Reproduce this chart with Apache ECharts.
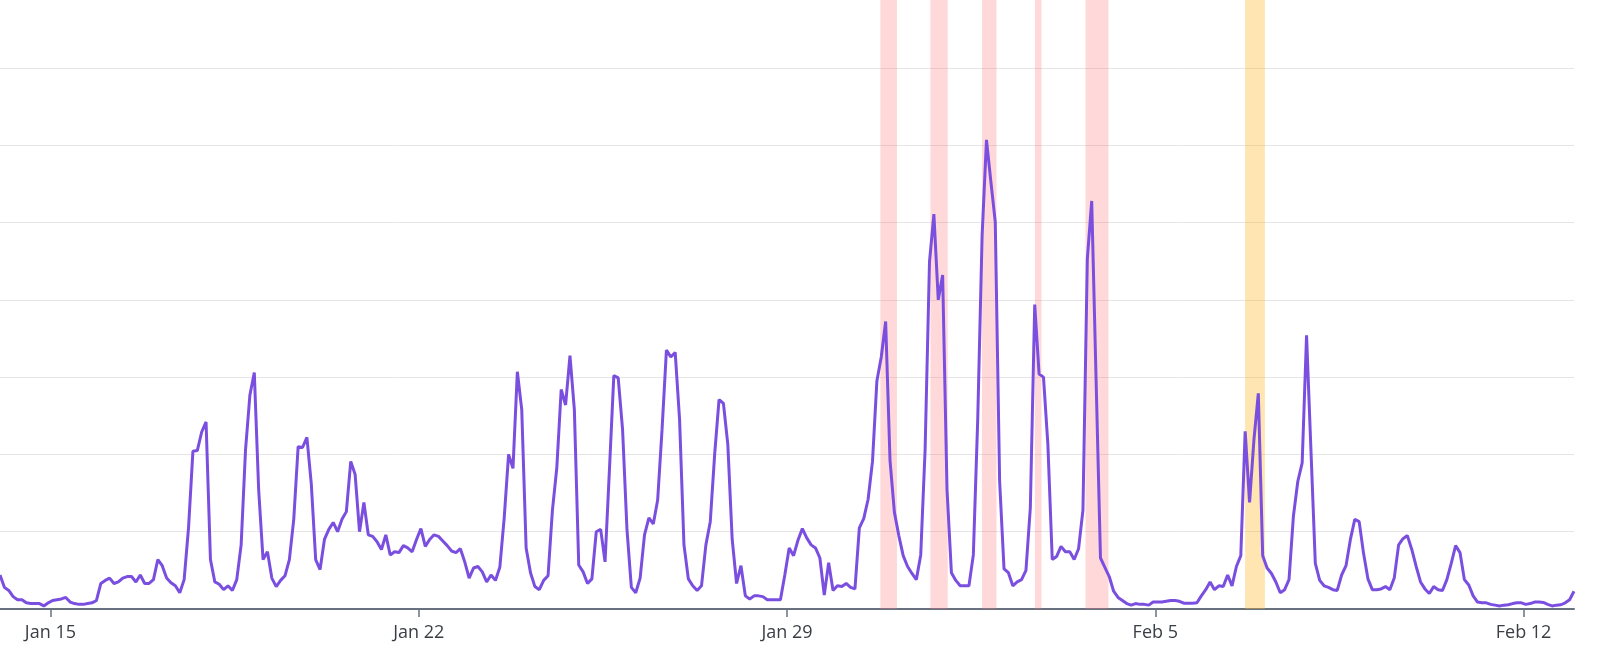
<!DOCTYPE html>
<html>
<head>
<meta charset="utf-8">
<script src="https://cdn.jsdelivr.net/npm/echarts@6/dist/echarts.min.js"></script>
<style>
  html, body { margin: 0; padding: 0; background: #ffffff; }
  #chart { width: 1600px; height: 664px; }
</style>
</head>
<body>
<div id="chart"></div>
<script>
// ---- data (2-hour samples starting 2024-01-14 01:00 UTC) ----
const seriesStart = '2024-01-14T01:00:00Z';
const stepHours = 2;

const values = [
  // Jan 14
  4.4, 2.8, 2.4, 1.6, 1.2, 1.2, 0.8, 0.7, 0.7, 0.7, 0.4, 0.8,
  // Jan 15
  1.1, 1.2, 1.3, 1.5, 0.9, 0.7, 0.6, 0.6, 0.7, 0.8, 1.1, 3.3,
  // Jan 16
  3.7, 4.0, 3.3, 3.5, 4.0, 4.2, 4.2, 3.5, 4.4, 3.3, 3.3, 3.8,
  // Jan 17
  6.4, 5.6, 4.0, 3.4, 3.0, 2.1, 3.8, 10.5, 20.4, 20.5, 22.9, 24.2,
  // Jan 18
  6.4, 3.5, 3.2, 2.5, 3.0, 2.4, 3.8, 8.3, 20.6, 27.7, 30.6, 15.4,
  // Jan 19
  6.4, 7.4, 4.0, 2.9, 3.7, 4.3, 6.4, 11.6, 21.0, 20.9, 22.2, 16.2,
  // Jan 20
  6.4, 5.1, 9.0, 10.3, 11.2, 10.0, 11.6, 12.6, 19.1, 17.4, 10.0, 13.8,
  // Jan 21
  9.6, 9.4, 8.7, 7.7, 9.6, 7.0, 7.4, 7.3, 8.2, 7.9, 7.4, 9.0,
  // Jan 22
  10.4, 8.1, 9.0, 9.6, 9.4, 8.8, 8.2, 7.5, 7.3, 7.8, 6.1, 4.0,
  // Jan 23
  5.3, 5.5, 4.8, 3.5, 4.4, 3.7, 5.4, 11.8, 20.0, 18.2, 30.7, 25.8,
  // Jan 24
  7.9, 4.7, 2.9, 2.5, 3.7, 4.3, 12.8, 18.3, 28.4, 26.4, 32.8, 25.8,
  // Jan 25
  5.7, 4.8, 3.3, 3.9, 10.0, 10.3, 6.1, 18.0, 30.2, 29.9, 23.2, 10.3,
  // Jan 26
  2.8, 2.1, 4.0, 9.6, 11.8, 11.0, 14.1, 23.2, 33.5, 32.6, 33.2, 24.5,
  // Jan 27
  8.3, 3.9, 3.0, 2.4, 3.0, 8.3, 11.3, 20.0, 27.1, 26.6, 21.3, 9.0,
  // Jan 28
  3.3, 5.6, 1.7, 1.3, 1.7, 1.7, 1.6, 1.2, 1.2, 1.2, 1.2, 4.4,
  // Jan 29
  7.9, 6.9, 8.9, 10.4, 9.2, 8.3, 7.9, 6.6, 1.8, 6.0, 2.4, 3.0,
  // Jan 30
  2.9, 3.3, 2.8, 2.6, 10.5, 11.7, 14.2, 19.1, 29.5, 32.6, 37.2, 19.2,
  // Jan 31
  12.5, 9.5, 6.9, 5.5, 4.6, 3.8, 7.0, 20.6, 44.9, 51.1, 40.0, 43.2,
  // Feb 1
  15.4, 4.7, 3.7, 3.0, 3.0, 3.0, 7.0, 24.5, 48.3, 60.7, 55.3, 50.1,
  // Feb 2
  16.5, 5.2, 4.7, 3.0, 3.5, 3.8, 5.0, 13.1, 39.4, 30.4, 30.0, 21.3,
  // Feb 3
  6.4, 6.8, 8.1, 7.4, 7.4, 6.4, 7.8, 12.8, 45.3, 52.8, 29.6, 6.6,
  // Feb 4
  5.4, 4.2, 2.3, 1.5, 1.1, 0.7, 0.5, 0.7, 0.6, 0.6, 0.5, 0.9,
  // Feb 5
  0.9, 0.9, 1.0, 1.1, 1.1, 1.0, 0.75, 0.75, 0.75, 0.8, 1.7, 2.5,
  // Feb 6
  3.5, 2.5, 3.0, 2.9, 4.4, 3.0, 5.5, 6.9, 23.0, 13.8, 21.9, 27.9,
  // Feb 7
  6.9, 5.3, 4.6, 3.5, 2.1, 2.5, 3.8, 12.0, 16.5, 18.9, 35.4, 20.6,
  // Feb 8
  5.9, 3.7, 3.0, 2.8, 2.5, 2.4, 4.4, 5.6, 9.0, 11.6, 11.3, 7.2,
  // Feb 9
  3.9, 2.5, 2.5, 2.6, 2.9, 2.5, 4.0, 8.3, 9.1, 9.5, 7.7, 5.5,
  // Feb 10
  3.5, 2.6, 2.0, 2.9, 2.5, 2.4, 3.8, 5.9, 8.2, 7.3, 3.8, 3.1,
  // Feb 11
  1.7, 0.9, 0.8, 0.8, 0.6, 0.5, 0.4, 0.5, 0.55, 0.7, 0.8, 0.8,
  // Feb 12
  0.6, 0.7, 0.9, 0.9, 0.85, 0.6, 0.4, 0.5, 0.55, 0.8, 1.2, 2.3
];

const tickDates  = ['2024-01-15T00:00:00Z', '2024-01-22T00:00:00Z', '2024-01-29T00:00:00Z', '2024-02-05T00:00:00Z', '2024-02-12T00:00:00Z'];
const tickLabels = ['Jan 15', 'Jan 22', 'Jan 29', 'Feb 5', 'Feb 12'];

const bandStarts = ['2024-01-30T18:35:00Z', '2024-01-31T17:25:00Z', '2024-02-01T16:55:00Z', '2024-02-02T17:05:00Z', '2024-02-03T16:10:00Z', '2024-02-06T17:00:00Z'];
const bandEnds   = ['2024-01-31T02:10:00Z', '2024-02-01T01:20:00Z', '2024-02-01T23:35:00Z', '2024-02-02T20:05:00Z', '2024-02-04T02:40:00Z', '2024-02-07T02:00:00Z'];
const bandKinds  = ['alert', 'alert', 'alert', 'alert', 'alert', 'warning'];

// ---- build ----
const HOUR = 3600 * 1000;
const t0 = Date.parse(seriesStart);
const points = values.map((v, i) => [t0 + i * stepHours * HOUR, v]);
const xMin = points[0][0];
const xMax = points[points.length - 1][0];

const tickTimes = tickDates.map(d => Date.parse(d));
const labelFor = {};
tickTimes.forEach((t, i) => { labelFor[t] = tickLabels[i]; });

const bandColor = { alert: 'rgba(255,120,120,0.28)', warning: 'rgba(253,182,40,0.36)' };
const areas = bandStarts.map((s, i) => [
  { xAxis: Date.parse(s), itemStyle: { color: bandColor[bandKinds[i]] } },
  { xAxis: Date.parse(bandEnds[i]) }
]);

const chart = echarts.init(document.getElementById('chart'), null, { renderer: 'canvas' });
chart.setOption({
  animation: false,
  backgroundColor: '#ffffff',
  grid: { left: 0, right: 26, top: 0, bottom: 55, containLabel: false },
  xAxis: {
    type: 'value',
    min: xMin,
    max: xMax,
    scale: true,
    splitLine: { show: false },
    axisLine: { show: true, lineStyle: { color: '#677180', width: 2 } },
    axisTick: {
      show: true, inside: false, length: 8,
      customValues: tickTimes,
      lineStyle: { color: '#677180', width: 1.5 }
    },
    axisLabel: {
      show: true,
      customValues: tickTimes,
      margin: 15,
      fontFamily: 'Open Sans',
      fontSize: 18,
      color: '#3a3e44',
      formatter: function (v) { return labelFor[v] !== undefined ? labelFor[v] : ''; }
    }
  },
  yAxis: {
    type: 'value',
    min: 0,
    max: 78.8,
    interval: 10,
    axisLine: { show: false },
    axisTick: { show: false },
    axisLabel: { show: false },
    splitLine: { show: true, showMaxLine: false, lineStyle: { color: '#e5e5e5', width: 1 } }
  },
  series: [
    {
      type: 'line',
      data: points,
      showSymbol: false,
      symbol: 'none',
      z: 2,
      lineStyle: { color: '#7a4fe0', width: 3 },
      emphasis: { disabled: true }
    },
    {
      type: 'line',
      data: [],
      zlevel: 1,
      z: 5,
      silent: true,
      markArea: { silent: true, data: areas }
    }
  ]
});
</script>
</body>
</html>
